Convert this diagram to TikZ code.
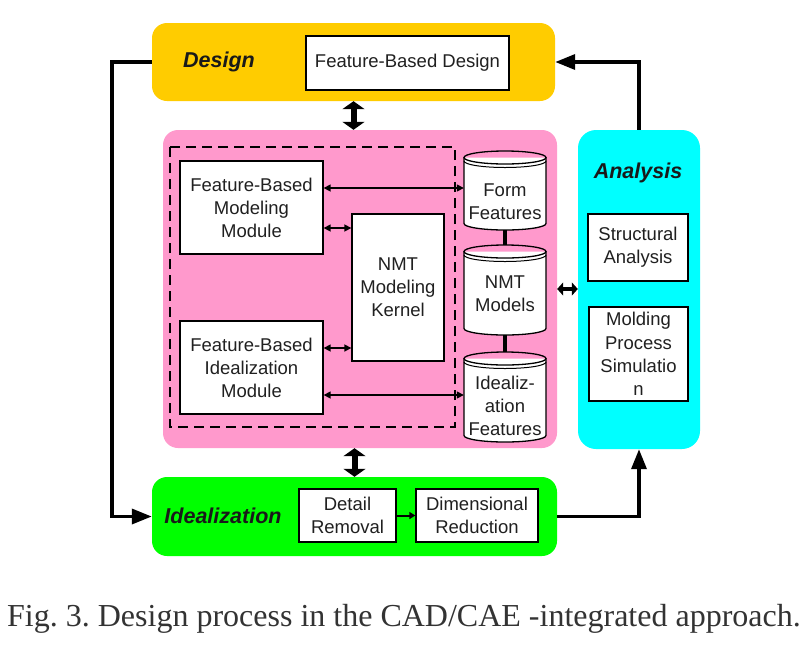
\documentclass[tikz,border=0pt]{standalone}
\usepackage{fontspec}
\setmainfont{Liberation Serif}
\newfontfamily\arial{Liberation Sans}
\usetikzlibrary{arrows.meta,calc}
\definecolor{dyellow}{HTML}{FFCC00}
\definecolor{dpink}{HTML}{FF99CC}
\definecolor{dcyan}{HTML}{00FFFF}
\definecolor{dgreen}{HTML}{00FF00}
\definecolor{txt}{HTML}{202020}
\frenchspacing
\tikzset{
  panel/.style={draw=none, rounded corners=15pt, inner sep=0pt},
  wbox/.style={draw=black, fill=white, line width=1.3pt, align=center, inner sep=0pt,
    text=txt, font=\arial\fontsize{18.5}{23}\selectfont},
  head/.style={font=\arial\bfseries\itshape\fontsize{21.5}{24}\selectfont, text=black!90},
  cyltext/.style={draw=none, align=center, inner sep=0pt, text=txt,
    font=\arial\fontsize{18.5}{23}\selectfont},
  bigdbl/.style={line width=6pt, {Triangle[width=22pt,length=8pt]}-{Triangle[width=22pt,length=8pt]}},
  smalldbl/.style={line width=4pt, {Triangle[width=13pt,length=6pt]}-{Triangle[width=13pt,length=6pt]}},
  thindbl/.style={line width=1.5pt, {Triangle[width=7pt,length=7pt]}-{Triangle[width=7pt,length=7pt]}},
  loopline/.style={line width=3.5pt, -{Triangle[width=15pt,length=20pt]}},
  joinline/.style={line width=4pt},
}
\newcommand\dbcyl[5]{% name, cx, top, bottom, text
  \fill[white] ({#2-41},{#3+6.5}) -- ({#2-41},{#4-6.5})
     arc[start angle=180,end angle=0,x radius=41,y radius=6.5] -- ({#2+41},{#3+6.5}) -- cycle;
  \draw[line width=1.3pt] ({#2-41},{#3+6.5}) -- ({#2-41},{#4-6.5})
     arc[start angle=180,end angle=0,x radius=41,y radius=6.5] -- ({#2+41},{#3+6.5});
  \draw[line width=1.3pt] (#2,{#3+6.5}) ellipse[x radius=41,y radius=6.5];
  \draw[line width=1pt] ({#2-41},{#3+10}) arc[start angle=180,end angle=0,x radius=41,y radius=6.5];
  \node[cyltext, minimum width=82pt, minimum height={#4-#3}] (#1) at (#2,{(#3+#4)/2}) {#5};
}
\begin{document}
\begin{tikzpicture}[x=1pt,y=-1pt]
\useasboundingbox (0,0) rectangle (811,649);
\fill[white] (0,0) rectangle (811,649);

% panels
\node[panel, fill=dyellow, minimum width=403pt, minimum height=78pt] (design) at (353.5,62) {};
\node[panel, fill=dpink, minimum width=394pt, minimum height=318pt] (pink) at (360,289) {};
\node[panel, fill=dcyan, rounded corners=18pt, minimum width=122pt, minimum height=319pt] (analysis) at (639,289.5) {};
\node[panel, fill=dgreen, minimum width=405pt, minimum height=79pt] (green) at (354.5,516.5) {};

% headings
\node[head] (designlbl) at (219,62) {Design};
\node[head] (analysislbl) at (638,173) {Analysis};
\node[head] (ideallbl) at (223,516) {Idealization};

% design
\node[wbox, minimum width=203pt, minimum height=54pt] (fbd) at (407.5,63) {Feature-Based Design};

% dashed box
\draw[line width=1.4pt, dash pattern=on 10pt off 6pt] (170,147) rectangle (455,427);

% modules
\node[wbox, minimum width=143pt, minimum height=93pt] (fbmm) at (251.5,207.5) {Feature-Based\\Modeling\\Module};
\node[wbox, minimum width=92pt, minimum height=147pt] (kernel) at (398,287.5) {NMT\\Modeling\\Kernel};
\node[wbox, minimum width=143pt, minimum height=93pt] (fbim) at (251.5,367.5) {Feature-Based\\Idealization\\Module};

% cylinders
\dbcyl{form}{505}{151}{230}{\\[12pt]Form\\Features}
\dbcyl{nmt}{505}{245}{335}{\\[-2pt]NMT\\Models}
\dbcyl{ideal}{505}{352}{442}{\\[8pt]Idealiz-\\ation\\Features}
\draw[joinline] (form.south) -- (nmt.north);
\draw[joinline] (nmt.south) -- (ideal.north);

% analysis boxes
\node[wbox, minimum width=100pt, minimum height=67pt] (struct) at (638,247.5) {Structural\\Analysis};
\node[wbox, minimum width=99pt, minimum height=94pt, font=\arial\fontsize{18.5}{23.3}\selectfont] (mold) at (638.5,354) {Molding\\Process\\Simulatio\\n};

% idealization boxes
\node[wbox, minimum width=97pt, minimum height=53pt] (detail) at (347.5,515.5) {Detail\\Removal};
\node[wbox, minimum width=122pt, minimum height=53pt] (dimred) at (477,515.5) {Dimensional\\Reduction};
\draw[line width=2pt, -{Triangle[width=7pt,length=6pt]}] (detail.east) -- (dimred.west);

% thin arrows
\draw[thindbl] ([yshift=19.5pt]fbmm.east) -- ([yshift=19.5pt]fbmm.east -| form.west);
\draw[thindbl] ([yshift=-20.5pt]fbmm.east) -- ([yshift=-20.5pt]fbmm.east -| kernel.west);
\draw[thindbl] ([yshift=19.5pt]fbim.east) -- ([yshift=19.5pt]fbim.east -| kernel.west);
\draw[thindbl] ([yshift=-27.5pt]fbim.east) -- ([yshift=-27.5pt]fbim.east -| ideal.west);

% big double arrows
\draw[bigdbl] (design.south) -- (design.south |- pink.north);
\draw[bigdbl] (green.north |- pink.south) -- (green.north);
\draw[smalldbl] (pink.east) -- (pink.east -| analysis.west);

% loops
\coordinate (lx) at (112,300);
\draw[loopline] (design.west) -| (lx) |- (green.west);
\draw[loopline] (analysis.north) |- (design.east);
\draw[loopline] (green.east) -| (analysis.south);

% caption
\node[anchor=base, inner sep=0pt, text=black!80, font=\fontsize{32}{36}\selectfont] (caption) at (404,626) {Fig. 3. Design process in the CAD/CAE -integrated approach.};
\end{tikzpicture}
\end{document}
